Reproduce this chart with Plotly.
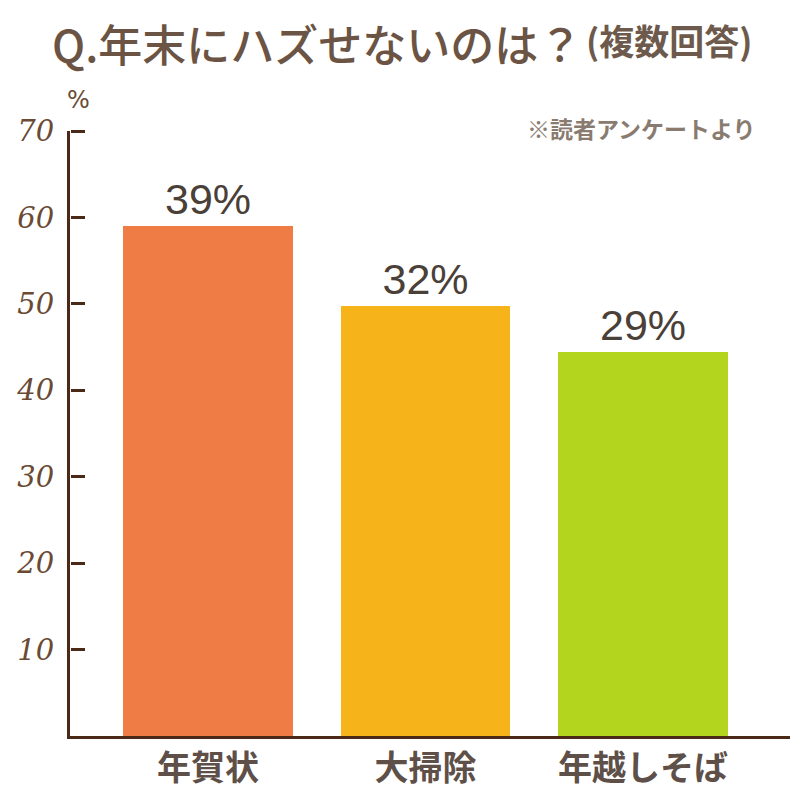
import plotly.graph_objects as go

categories = ["年賀状", "大掃除", "年越しそば"]
bar_heights = [59.0, 49.7, 44.4]
value_labels = ["39%", "32%", "29%"]
bar_colors = ["#ef7b45", "#f6b41a", "#b3d51e"]
y_ticks = [10, 20, 30, 40, 50, 60, 70]

W, H = 800, 800
OFF = 8  # page body margin offset
# target plot-area edges in screen pixels
X0, X1, Y0, Y1 = 70, 790, 131, 736
L, R, T = X0 - OFF, W - (X1 - OFF), Y0 - OFF
B = H - (Y1 - OFF)
pw, ph = X1 - X0, Y1 - Y0

def px(x):
    return (x - X0) / pw

def py(y):
    return (Y1 - y) / ph

fig = go.Figure()
fig.add_trace(go.Bar(
    x=[0, 1, 2],
    y=bar_heights,
    width=0.78,
    marker=dict(color=bar_colors, line=dict(width=0)),
    text=value_labels,
    textposition="outside",
    textfont=dict(size=43, color="#4a4038", family="Liberation Sans, Arial, sans-serif"),
    cliponaxis=False,
    hoverinfo="skip",
))
# empty helper trace so the right-pointing tick axis is drawn
fig.add_trace(go.Scatter(x=[], y=[], yaxis="y2", showlegend=False, hoverinfo="skip"))

axis_color = "#4a2a16"
fig.update_layout(
    width=W, height=H,
    margin=dict(l=L, r=R, t=T, b=B),
    paper_bgcolor="white",
    plot_bgcolor="white",
    showlegend=False,
    bargap=0,
    xaxis=dict(
        range=[-0.634, 2.676],
        tickvals=[0, 1, 2],
        ticktext=categories,
        showline=True, linecolor=axis_color, linewidth=3,
        showgrid=False, zeroline=False, ticks="",
        tickfont=dict(size=34, color="#5e5048", family="Noto Sans CJK JP", weight=700),
        automargin=False,
        fixedrange=True,
    ),
    yaxis=dict(
        range=[0, 70],
        tickvals=y_ticks,
        showline=True, linecolor=axis_color, linewidth=3,
        showgrid=False, zeroline=False,
        ticks="",
        tickfont=dict(size=29, color="#6a4a34", family="DejaVu Serif", style="italic"),
        ticklabelstandoff=7,
        automargin=False,
        fixedrange=True,
    ),
    yaxis2=dict(
        range=[0, 70],
        tickvals=y_ticks,
        overlaying="y",
        side="right",
        anchor="free",
        position=0,
        showline=False,
        showgrid=False, zeroline=False,
        ticks="outside", ticklen=14, tickwidth=3, tickcolor=axis_color,
        showticklabels=False,
        automargin=False,
        fixedrange=True,
    ),
    annotations=[
        dict(text="Q.年末にハズせないのは？",
             x=px(50), y=py(9), xref="paper", yref="paper",
             xanchor="left", yanchor="top", showarrow=False,
             font=dict(size=44, color="#6b5444", family="Noto Sans CJK JP", weight=500)),
        dict(text="<b>(複数回答)</b>",
             x=px(584), y=py(12), xref="paper", yref="paper",
             xanchor="left", yanchor="top", showarrow=False,
             font=dict(size=35, color="#6d5a4c", family="Noto Sans CJK JP")),
        dict(text="%", x=px(78), y=py(100), xref="paper", yref="paper",
             xanchor="center", yanchor="middle", showarrow=False,
             font=dict(size=24, color="#6a4a34", family="DejaVu Sans")),
        dict(text="<b>※読者アンケートより</b>", x=px(758), y=py(128), xref="paper", yref="paper",
             xanchor="right", yanchor="middle", showarrow=False,
             font=dict(size=23, color="#8a7b70", family="Noto Sans CJK JP")),
    ],
)

fig.write_html("out.html")
